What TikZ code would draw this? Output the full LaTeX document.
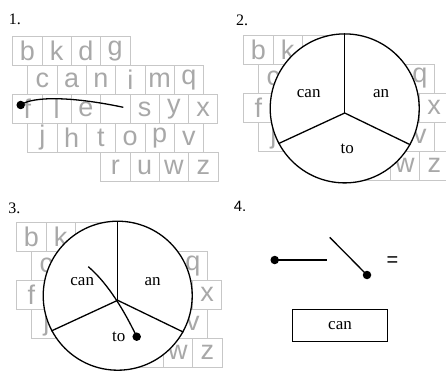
\documentclass[tikz,border=0pt]{standalone}
\usepackage{fontspec}
\setmainfont{Liberation Serif}
\newfontfamily\arialfont{Liberation Sans}
\usetikzlibrary{calc}
\tikzset{
  key/.style={draw=black!22, line width=0.8pt, minimum width=29.3pt, minimum height=29pt, inner sep=0pt,
    text=black!34, font=\arialfont\fontsize{27}{27}\selectfont},
  wheel/.style={circle, draw=black, fill=white, line width=1.3pt, minimum size=149pt, inner sep=0pt},
  word/.style={font=\fontsize{17}{17}\selectfont, inner sep=0pt},
  panel/.style={font=\fontsize{16}{16}\selectfont, inner sep=0pt},
  stroke/.style={line width=1.3pt, black},
  dot/.style={circle, fill=black, minimum size=8.5pt, inner sep=0pt},
  wordbox/.style={draw=black, line width=1.1pt, minimum width=95.7pt, minimum height=32.7pt, inner sep=0pt,
    font=\fontsize{17}{17}\selectfont}
}
\newcommand\kbrow[5]{% prefix, row index, x offset, origin, letters
  \foreach \l [count=\i from 0] in {#5} {
    \node[key] (#1-#2-\i) at ($(#4)+(#3+\i*29.3+14.65, #2*29+14.5)$) {\l};
  }
}
\newcommand\kbd[2]{% prefix, origin coordinate name
  \kbrow{#1}{0}{0}{#2}{b,k,d,g}
  \kbrow{#1}{1}{15}{#2}{c,a,n,i,m,q}
  \kbrow{#1}{2}{0}{#2}{f,l,e,{},s,y,x}
  \kbrow{#1}{3}{15}{#2}{j,h,t,o,p,v}
  \kbrow{#1}{4}{88}{#2}{r,u,w,z}
}
\begin{document}
\begin{tikzpicture}[x=1pt, y=-1pt]
\useasboundingbox (0,0) rectangle (446,371);
% panel labels
\node[panel] (n1) at (15,19) {1.};
\node[panel] (n2) at (242,20) {2.};
\node[panel] (n3) at (14.5,208) {3.};
\node[panel, font=\arialfont\fontsize{15}{15}\selectfont] (n4) at (240,206.5) {4.};

% panel 1
\coordinate (o1) at (12.7,36.5);
\kbd{ka}{o1}
\node[dot] (d1) at (20.7,105) {};
\coordinate (e1) at (123.3,107.3);
\draw[stroke] (d1.center) .. controls (32,96.5) and (70,96) .. (e1);

% panel 2
\coordinate (o2) at (243.7,35);
\kbd{kb}{o2}
\node[wheel] (c2) at ($(o2)+(101,73.4)$) {};
\coordinate (h2) at ($(o2)+(101,78)$);
\draw[stroke] (h2) -- (c2.north);
\draw[stroke] (h2) -- (c2.208.6);
\draw[stroke] (h2) -- (c2.331.4);
\node[word] (w2a) at ($(c2.center)+(-36,-14.5)$) {can};
\node[word] (w2b) at ($(c2.center)+(36.5,-14.5)$) {an};
\node[word] (w2c) at ($(c2.center)+(2.5,40.5)$) {to};

% panel 3
\coordinate (o3) at (16.7,222.3);
\kbd{kc}{o3}
\node[wheel] (c3) at ($(o3)+(101,73.4)$) {};
\coordinate (h3) at ($(o3)+(101,78)$);
\draw[stroke] (h3) -- (c3.north);
\draw[stroke] (h3) -- (c3.208.6);
\draw[stroke] (h3) -- (c3.331.4);
\node[word] (w3a) at ($(c3.center)+(-35.5,-14)$) {can};
\node[word] (w3b) at ($(c3.center)+(35,-14)$) {an};
\node[word] (w3c) at ($(c3.center)+(1,41)$) {to};
\coordinate (s3) at (88.3,266.7);
\node[dot] (d3) at (136.7,336.7) {};
\draw[stroke] (s3) .. controls (105,281) and (121,304) .. (d3.center);

% panel 4
\node[dot] (d4a) at (274.7,260) {};
\coordinate (e4a) at (327,260);
\draw[stroke] (d4a.center) -- (e4a);
\coordinate (s4b) at (329.7,237.3);
\node[dot] (d4b) at (367,275) {};
\draw[stroke] (s4b) -- (d4b.center);
\node[font=\arialfont\fontsize{20}{20}\selectfont, inner sep=0pt] (eq) at (392.5,262) {=};
\node[wordbox] (b4) at (340,325.4) {can};
\end{tikzpicture}
\end{document}
